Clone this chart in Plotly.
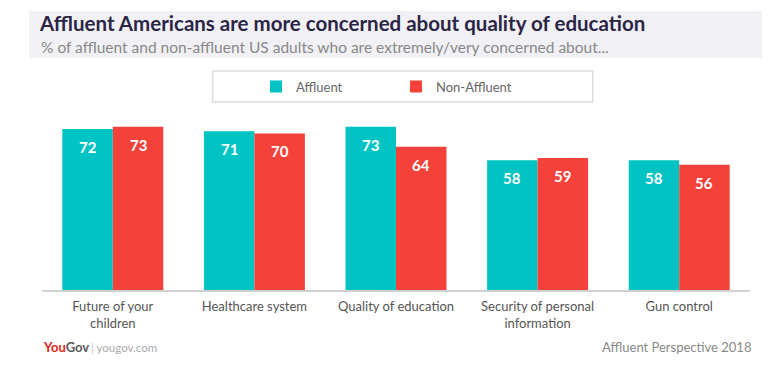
import plotly.graph_objects as go

categories = ["Future of your<br>children", "Healthcare system", "Quality of education",
              "Security of personal<br>information", "Gun control"]
affluent = [72, 71, 73, 58, 58]
non_affluent = [73, 70, 64, 59, 56]
series_names = ["Affluent", "Non-Affluent"]

TEAL = "#00C4C4"
RED = "#F4413A"
FONT = "Lato"

W, H = 763, 368  # page has an 8px body margin

fig = go.Figure()
fig.add_trace(go.Bar(x=categories, y=affluent, name=series_names[0],
                     marker=dict(color=TEAL, line=dict(width=0))))
fig.add_trace(go.Bar(x=categories, y=non_affluent, name=series_names[1],
                     marker=dict(color=RED, line=dict(width=0))))

# value labels inside the bar tops
half = 25.2
for vals, shift in ((affluent, -half), (non_affluent, half)):
    for c, v in zip(categories, vals):
        fig.add_annotation(x=c, y=v, xref="x", yref="y", text=str(v), showarrow=False,
                           xshift=shift, yshift=-18, yanchor="middle",
                           font=dict(family=FONT, size=15, color="white", weight="bold"))

# header band
fig.add_shape(type="rect", xref="paper", yref="paper", x0=-0.018, x1=1.017,
              y0=1.296, y1=1.559, fillcolor="#F1F1F5", line=dict(width=0), layer="below")
# legend box
fig.add_shape(type="rect", xref="paper", yref="paper", x0=0.241, x1=0.778,
              y0=1.05, y1=1.223, fillcolor="white", line=dict(color="#DDDDDD", width=1.5))

# subtitle
fig.add_annotation(text="% of affluent and non-affluent US adults who are extremely/very concerned about...",
                   xref="paper", yref="paper", x=-0.004, y=1.360, xanchor="left", yanchor="middle",
                   showarrow=False, font=dict(family=FONT, size=15.5, color="#888888"))

# footer
fig.add_annotation(text="<span style='color:#E4231B'>You</span><span style='color:#5A5A5A'>Gov</span>",
                   xref="paper", yref="paper", x=-0.002, y=-0.32, xanchor="left", yanchor="middle",
                   showarrow=False, font=dict(family=FONT, size=13, weight="bold"))
fig.add_annotation(text="<span style='color:#C8C8C8'>| </span><span style='color:#AAAAAA'>yougov.com</span>",
                   xref="paper", yref="paper", x=0.067, y=-0.32, xanchor="left", yanchor="middle",
                   showarrow=False, font=dict(family=FONT, size=11.5))
fig.add_annotation(text="Affluent Perspective 2018",
                   xref="paper", yref="paper", x=1.004, y=-0.32, xanchor="right", yanchor="middle",
                   showarrow=False, font=dict(family=FONT, size=13, color="#888888"))

fig.update_layout(
    width=W, height=H,
    margin=dict(l=34, r=21, t=103, b=86),
    paper_bgcolor="white", plot_bgcolor="white",
    barmode="group", bargap=0.287, bargroupgap=0,
    font=dict(family=FONT, color="#555555"),
    title=dict(text="Affluent Americans are more concerned about quality of education",
               xref="container", yref="container", x=32 / W, xanchor="left",
               y=1 - 9 / H, yanchor="top",
               font=dict(family=FONT, size=20.5, color="#2B2545", weight="bold")),
    showlegend=True,
    legend=dict(orientation="h", x=0.5, xanchor="center", y=1.137, yanchor="middle",
                entrywidth=95, entrywidthmode="pixels",
                font=dict(family=FONT, size=13, color="#666666"),
                bgcolor="rgba(0,0,0,0)"),
    xaxis=dict(showline=True, linecolor="#D0D0D0", linewidth=1.5, ticks="",
               ticklabelstandoff=4,
               tickfont=dict(family=FONT, size=13, color="#555555"), fixedrange=True),
    yaxis=dict(range=[0, 80], visible=False, showgrid=False, fixedrange=True),
)

fig.write_html("out.html")
